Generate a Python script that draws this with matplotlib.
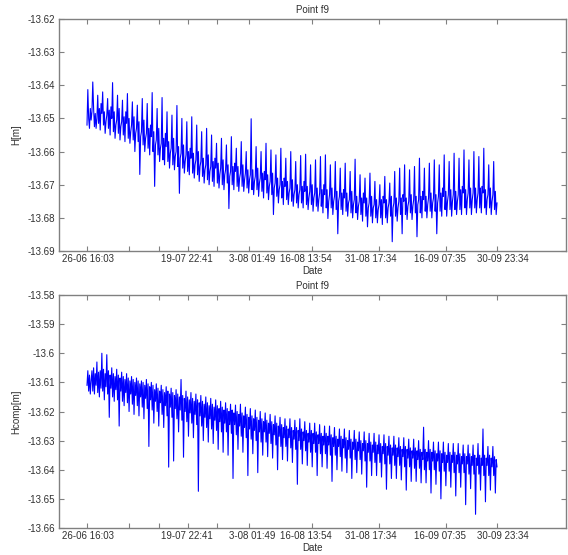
import numpy as np
import matplotlib
matplotlib.use("Agg")
import matplotlib.pyplot as plt
from matplotlib.ticker import FixedLocator

plt.rcParams['font.family'] = ['Liberation Sans', 'DejaVu Sans']

# Values, stored as offsets in units of 0.1 mm below -13.6 m
# (value = -13.6 - offset / 10000)
h_offset = [
    520, 413, 500, 530, 470, 505,
    480, 390, 470, 525, 485, 530,
    500, 430, 515, 470, 535, 455,
    485, 420, 520, 480, 545, 510,
    490, 440, 530, 475, 550, 465,
    500, 392, 540, 480, 560, 520,
    505, 430, 545, 470, 565, 525,
    510, 445, 550, 495, 570, 480,
    515, 425, 560, 500, 575, 540,
    520, 450, 565, 495, 600, 545,
    530, 460, 570, 510, 669, 555,
    540, 440, 580, 505, 600, 560,
    545, 455, 590, 530, 610, 520,
    555, 422, 600, 540, 705, 580,
    565, 470, 610, 530, 630, 590,
    575, 437, 625, 560, 640, 545,
    585, 480, 630, 570, 650, 605,
    590, 490, 640, 560, 655, 615,
    600, 461, 645, 585, 726, 620,
    605, 500, 650, 580, 665, 630,
    610, 510, 660, 600, 670, 590,
    620, 495, 665, 605, 680, 640,
    625, 520, 670, 600, 690, 645,
    630, 540, 675, 620, 695, 655,
    640, 530, 685, 610, 700, 660,
    645, 550, 690, 630, 705, 620,
    650, 575, 695, 635, 710, 670,
    650, 560, 700, 625, 715, 670,
    655, 580, 695, 640, 772, 675,
    660, 555, 700, 645, 715, 635,
    660, 590, 705, 645, 720, 680,
    665, 570, 705, 640, 720, 685,
    665, 600, 710, 655, 725, 685,
    670, 501, 715, 655, 730, 690,
    675, 585, 715, 650, 735, 695,
    680, 600, 720, 665, 740, 660,
    685, 575, 725, 670, 745, 705,
    690, 595, 730, 665, 790, 710,
    695, 610, 735, 680, 755, 715,
    700, 590, 740, 690, 760, 680,
    705, 620, 745, 690, 760, 725,
    710, 600, 750, 685, 765, 730,
    715, 630, 755, 700, 770, 730,
    715, 612, 755, 705, 770, 690,
    720, 608, 760, 705, 775, 740,
    720, 640, 760, 700, 780, 740,
    725, 625, 765, 710, 780, 745,
    725, 615, 765, 715, 785, 700,
    730, 610, 770, 715, 802, 750,
    730, 640, 770, 710, 790, 750,
    735, 630, 775, 720, 848, 750,
    735, 650, 775, 725, 790, 715,
    740, 635, 780, 725, 795, 755,
    745, 660, 785, 720, 800, 760,
    745, 623, 785, 735, 805, 765,
    750, 670, 790, 740, 810, 725,
    755, 680, 795, 740, 827, 770,
    755, 665, 795, 735, 815, 770,
    760, 690, 800, 745, 815, 775,
    760, 700, 800, 745, 820, 735,
    755, 675, 800, 745, 815, 770,
    755, 695, 795, 735, 872, 770,
    755, 660, 795, 740, 810, 770,
    750, 650, 790, 740, 848, 730,
    750, 640, 790, 740, 805, 765,
    750, 655, 785, 730, 805, 765,
    745, 645, 785, 735, 857, 760,
    745, 620, 785, 735, 800, 720,
    745, 650, 780, 735, 800, 760,
    740, 635, 780, 725, 800, 755,
    740, 625, 780, 730, 848, 755,
    735, 640, 780, 725, 795, 710,
    735, 610, 775, 720, 795, 750,
    730, 630, 775, 715, 795, 750,
    730, 605, 775, 720, 790, 750,
    730, 620, 775, 715, 790, 705,
    725, 595, 770, 715, 790, 745,
    725, 625, 770, 710, 790, 745,
    725, 600, 770, 710, 785, 745,
    725, 615, 770, 710, 785, 705,
    725, 590, 770, 715, 790, 745,
    730, 640, 770, 710, 790, 750,
    730, 630, 775, 720, 790, 755,
]

hcomp_offset = [
    110, 60, 130, 75, 140, 95,
    60, 130, 50, 140, 70, 110,
    30, 135, 65, 150, 60, 120,
    0, 130, 55, 160, 70, 115,
    5, 140, 60, 220, 75, 120,
    50, 150, 70, 165, 80, 125,
    55, 160, 75, 250, 85, 130,
    65, 165, 80, 180, 90, 135,
    70, 170, 85, 200, 95, 140,
    80, 175, 90, 210, 100, 145,
    85, 180, 95, 215, 105, 150,
    95, 185, 100, 225, 110, 155,
    90, 190, 105, 320, 115, 160,
    100, 195, 110, 240, 125, 165,
    105, 200, 120, 250, 130, 170,
    110, 210, 125, 255, 135, 180,
    115, 215, 130, 391, 140, 185,
    120, 220, 135, 370, 145, 190,
    125, 225, 140, 270, 150, 195,
    90, 230, 145, 357, 155, 200,
    130, 235, 150, 285, 160, 205,
    135, 240, 155, 290, 165, 210,
    140, 245, 160, 474, 170, 215,
    145, 250, 165, 300, 175, 220,
    150, 255, 170, 305, 180, 225,
    155, 260, 175, 310, 185, 230,
    160, 265, 180, 330, 190, 235,
    165, 270, 185, 340, 195, 240,
    170, 270, 190, 350, 200, 245,
    175, 275, 195, 430, 205, 245,
    178, 280, 200, 330, 210, 250,
    175, 285, 205, 340, 215, 255,
    185, 290, 210, 420, 220, 260,
    190, 295, 215, 345, 225, 265,
    195, 300, 220, 410, 230, 270,
    200, 305, 225, 350, 235, 270,
    205, 305, 230, 355, 240, 275,
    210, 310, 235, 360, 245, 280,
    215, 315, 240, 400, 250, 285,
    220, 320, 245, 365, 255, 290,
    225, 320, 250, 370, 260, 290,
    225, 325, 255, 375, 265, 295,
    230, 330, 255, 450, 265, 300,
    225, 330, 260, 380, 270, 300,
    235, 335, 265, 385, 275, 305,
    240, 340, 265, 390, 275, 310,
    240, 340, 270, 420, 280, 310,
    245, 345, 275, 390, 285, 315,
    250, 345, 275, 395, 285, 315,
    250, 350, 280, 440, 290, 320,
    255, 350, 285, 400, 295, 320,
    260, 355, 285, 405, 295, 325,
    260, 360, 290, 410, 300, 330,
    265, 360, 295, 430, 305, 330,
    265, 365, 295, 410, 305, 335,
    270, 365, 300, 415, 310, 335,
    270, 370, 300, 460, 310, 340,
    275, 370, 305, 420, 315, 340,
    275, 375, 305, 420, 315, 345,
    280, 375, 310, 425, 320, 345,
    280, 380, 310, 467, 320, 350,
    285, 380, 315, 430, 325, 350,
    285, 385, 315, 430, 325, 355,
    290, 385, 320, 435, 330, 355,
    290, 390, 320, 470, 330, 360,
    295, 390, 325, 440, 335, 360,
    295, 395, 325, 440, 335, 365,
    300, 395, 330, 445, 340, 365,
    254, 400, 330, 445, 340, 370,
    300, 400, 330, 480, 340, 370,
    305, 400, 335, 450, 345, 370,
    305, 405, 335, 500, 345, 375,
    305, 405, 340, 455, 350, 375,
    310, 405, 340, 460, 350, 375,
    310, 410, 340, 490, 350, 380,
    310, 410, 345, 460, 355, 380,
    315, 410, 345, 520, 355, 380,
    315, 415, 345, 465, 355, 385,
    315, 415, 350, 553, 360, 385,
    310, 415, 350, 470, 360, 385,
    260, 420, 350, 510, 360, 385,
    320, 420, 350, 470, 360, 390,
    320, 420, 355, 480, 365, 390,
]

date_labels = ['26-06 16:03', '19-07 22:41', '3-08 01:49', '16-08 13:54',
               '31-08 17:34', '16-09 07:35', '30-09 23:34']
label_pos = [0.5, 100, 165, 219, 284, 353, 415.5]
tick_pos = [0, 42, 72, 101, 130, 162, 225, 292, 359, 410]

top_yticks = [-13.62, -13.63, -13.64, -13.65, -13.66, -13.67, -13.68, -13.69]
top_ylabels = ['-13.62', '-13.63', '-13.64', '-13.65', '-13.66', '-13.67', '-13.68', '-13.69']
bot_yticks = [-13.58, -13.59, -13.60, -13.61, -13.62, -13.63, -13.64, -13.65, -13.66]
bot_ylabels = ['-13.58', '-13.59', '-13.6', '-13.61', '-13.62', '-13.63', '-13.64', '-13.65', '-13.66']

H = -13.6 - np.array(h_offset) / 10000.0
Hc = -13.6 - np.array(hcomp_offset) / 10000.0
xh = np.linspace(0, 410, len(H))
xc = np.linspace(0, 410, len(Hc))

fig = plt.figure(figsize=(5.68, 5.55), dpi=100)
ax1 = fig.add_axes([59/568, 1-251/555, 507/568, 232/555])
ax2 = fig.add_axes([59/568, 1-528/555, 507/568, 233/555])

txtc = '#303030'
spc = '#808080'

def style(ax, yt, yl, ylim, ylabel):
    ax.set_xlim(-28, 479)
    ax.set_ylim(*ylim)
    ax.set_xticks(label_pos)
    ax.set_xticklabels(date_labels)
    ax.xaxis.set_minor_locator(FixedLocator(tick_pos))
    ax.set_yticks(yt)
    ax.set_yticklabels(yl)
    ax.tick_params(axis='x', which='major', length=0, labelsize=7,
                   labelcolor=txtc, pad=2.5)
    ax.tick_params(axis='x', which='minor', direction='in', length=3.5,
                   width=0.8, color=spc, top=True, bottom=True)
    ax.tick_params(axis='y', direction='in', length=3.5, width=0.8, color=spc,
                   labelsize=7, labelcolor=txtc, right=True, pad=3)
    for s in ax.spines.values():
        s.set_color(spc)
        s.set_linewidth(1.0)
    ax.set_xlabel('Date', fontsize=7, color=txtc, labelpad=1)
    ax.set_ylabel(ylabel, fontsize=7, color=txtc, labelpad=4)
    ax.set_title('Point f9', fontsize=7, color=txtc, pad=4)

ax1.plot(xh, H, color='#0000ff', linewidth=0.8)
style(ax1, top_yticks, top_ylabels, (-13.69, -13.62), 'H[m]')
ax2.plot(xc, Hc, color='#0000ff', linewidth=0.8)
style(ax2, bot_yticks, bot_ylabels, (-13.66, -13.58), 'Hcomp[m]')

fig.savefig('out.png', dpi=100)
